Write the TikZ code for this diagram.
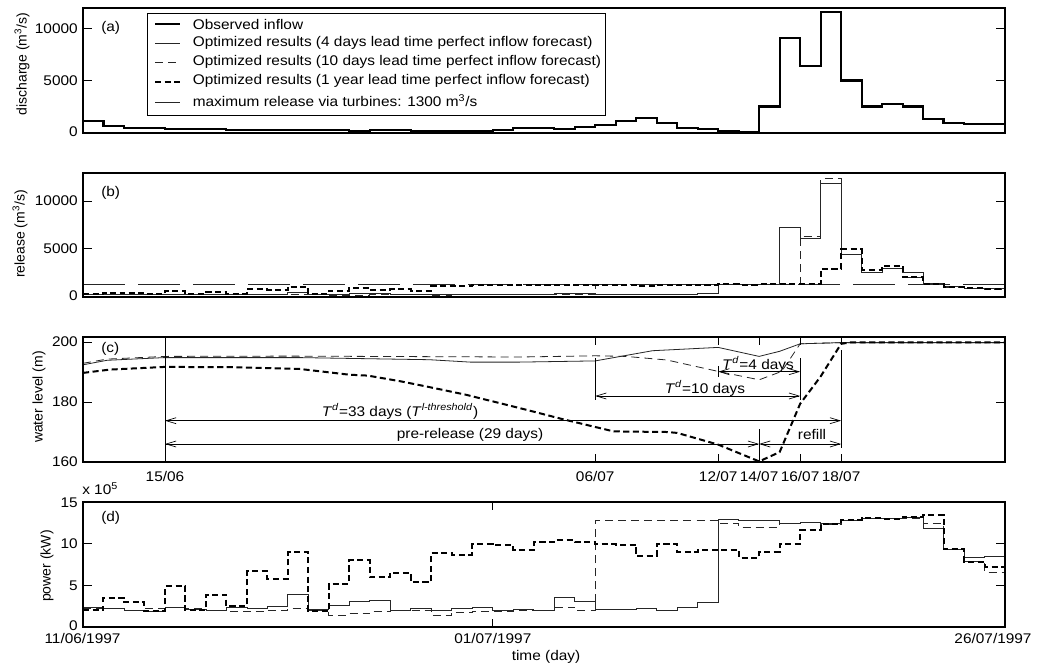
\documentclass[tikz,border=0pt]{standalone}
\usepackage{fontspec}
\setmainfont{Liberation Sans}
\usepackage{graphicx}
\usetikzlibrary{arrows.meta}
\newcommand{\sx}[1]{\scalebox{1.1}[1]{#1}}
\begin{document}
\begin{tikzpicture}[x=0.75pt,y=-0.75pt,
  every node/.style={inner sep=0pt, font=\fontsize{10.5}{12}\selectfont},
  frame/.style={line width=0.9pt},
  tk/.style={line width=0.7pt},
  obs/.style={line width=1.6pt},
  fourd/.style={line width=0.6pt, black!85},
  tend/.style={line width=0.6pt, black!85, dash pattern=on 6pt off 3.8pt},
  oney/.style={line width=1.5pt, dash pattern=on 4.6pt off 2.6pt},
  maxrel/.style={line width=0.6pt, black!85, dash pattern=on 31.5pt off 9.75pt},
  dimarrow/.style={line width=0.5pt, {Straight Barb[length=7.5pt,width=4.5pt]}-{Straight Barb[length=7.5pt,width=4.5pt]}},
  ann/.style={line width=0.5pt},
  pa/.style={shift={(83,133)}, x=15.367pt, y=7.8125pt},
  pb/.style={shift={(83,296.5)}, x=15.367pt, y=7.1625pt},
  pc/.style={shift={(83,942)}, x=15.367pt, y=2.25pt},
  pd/.style={shift={(83,627)}, x=15.367pt, y=6.25pt},
]
\fill[white] (0,0) rectangle (1042,668);
\useasboundingbox (0,0) rectangle (1042,668);

% ---------------- panel (a)
\begin{scope}[pa]
\draw[obs] plot[const plot] coordinates {(0,1.15)(1,0.64)(2,0.48)(4,0.38)(7,0.25)(13,0.15)(14,0.25)(16,0.2)(20,0.3)(21,0.48)(23,0.41)(24,0.57)(25,0.73)(26,1.15)(27,1.4)(28,0.96)(29,0.51)(30,0.35)(31,0.19)(32,0.1)(33,2.55)(34,9.1)(35,6.41)(36,11.64)(37,5.04)(38,2.55)(39,2.8)(40,2.55)(41,1.37)(42,0.96)(43,0.83)(45,0.83)};
\end{scope}
\draw[frame] (83,8) rectangle (1005,133);
\foreach \yy in {80.9,28.8} {\draw[tk] (83,\yy) -- (92,\yy); \draw[tk] (996,\yy) -- (1005,\yy);}
\node[anchor=east] (ya0) at (78,132) {\sx{0}};
\node[anchor=east] (ya1) at (78,80.9) {\sx{5000}};
\node[anchor=east] (ya2) at (78,28.8) {\sx{10000}};
\node[rotate=90] (yla) at (22,64) {discharge (m\textsuperscript{3}/s)};
\node[anchor=west] (lbla) at (101,28) {\sx{(a)}};

% legend
\draw[frame, fill=white] (147.7,13.3) rectangle (605.7,115.7);
\coordinate (l1a) at (155,24); \coordinate (l1b) at (180,24);
\coordinate (l2a) at (155,43.5); \coordinate (l2b) at (180,43.5);
\coordinate (l3a) at (155,62.5); \coordinate (l3b) at (180,62.5);
\coordinate (l4a) at (155,81.5); \coordinate (l4b) at (180,81.5);
\coordinate (l5a) at (155,102); \coordinate (l5b) at (180,102);
\draw[obs] (l1a) -- (l1b);
\draw[fourd] (l2a) -- (l2b);
\draw[tend] (l3a) -- (l3b);
\draw[oney] (l4a) -- (l4b);
\draw[fourd] (l5a) -- (l5b);
\node[anchor=west] (t1) at (192.5,24) {\sx{Observed inflow}};
\node[anchor=west] (t2) at (192.5,43) {\sx{Optimized results (4 days lead time perfect inflow forecast)}};
\node[anchor=west] (t3) at (192.5,62) {\sx{Optimized results (10 days lead time perfect inflow forecast)}};
\node[anchor=west] (t4) at (192.5,81) {\sx{Optimized results (1 year lead time perfect inflow forecast)}};
\node[anchor=west] (t5) at (192.5,100.5) {\sx{maximum release via turbines: 1300 m\textsuperscript{3}/s}};

% ---------------- panel (b)
\begin{scope}[pb]
\draw[maxrel] (0,1.3) -- (45,1.3);
\draw[fourd] plot[const plot] coordinates {(0,0.23)(1,0.225)(2,0.2)(3,0.19)(4,0.23)(5,0.21)(6,0.2)(7,0.24)(8,0.22)(9,0.25)(10,0.4)(11,0.21)(12,0.265)(13,0.305)(14,0.325)(15,0.2)(16,0.22)(17,0.2)(18,0.22)(19,0.23)(20,0.2)(21,0.21)(22,0.2)(23,0.35)(24,0.31)(25,0.21)(27,0.22)(28,0.2)(29,0.23)(30,0.29)(31,1.3)(34,7.2)(35,6.1)(36,11.8)(37,4.4)(38,2.53)(39,2.9)(40,2.57)(41,1.34)(42,1.06)(43,0.88)(45,0.88)};
\draw[tend] plot[const plot] coordinates {(0,0.22)(2,0.2)(3,0.22)(4,0.24)(5,0.22)(6,0.2)(7,0.185)(8,0.19)(9,0.2)(10,0.22)(11,0.2)(12,0.14)(13,0.16)(14,0.185)(15,0.2)(17,0.14)(18,0.175)(19,0.185)(20,0.19)(21,0.2)(23,0.24)(24,0.195)(25,1.3)(35,6.34)(36,12.32)(37,4.4)(38,2.53)(39,2.9)(40,2.04)(41,1.34)(42,1.0)(43,0.85)(44,0.7)(45,0.7)};
\draw[oney] plot[const plot] coordinates {(0,0.23)(1,0.41)(2,0.35)(3,0.22)(4,0.56)(5,0.23)(6,0.45)(7,0.29)(8,0.77)(9,0.66)(10,1.03)(11,0.22)(12,0.6)(13,0.92)(14,0.68)(15,0.75)(16,0.62)(17,1.13)(19,1.2)(22,1.25)(27,1.13)(28,1.25)(29,1.2)(30,1.25)(31,1.3)(32,1.25)(33,1.3)(36,2.92)(37,4.93)(38,2.82)(39,3.24)(40,2.04)(41,1.34)(42,0.99)(43,0.88)(44,0.77)(45,0.77)};
\end{scope}
\draw[frame] (83,173) rectangle (1005,297);
\foreach \yy in {248.75,201} {\draw[tk] (83,\yy) -- (92,\yy); \draw[tk] (996,\yy) -- (1005,\yy);}
\node[anchor=east] (yb0) at (78,296) {\sx{0}};
\node[anchor=east] (yb1) at (78,248.75) {\sx{5000}};
\node[anchor=east] (yb2) at (78,201) {\sx{10000}};
\node[rotate=90] (ylb) at (20,234) {release (m\textsuperscript{3}/s)};
\node[anchor=west] (lblb) at (101,193) {\sx{(b)}};

% ---------------- panel (c)
\begin{scope}[pc]
\draw[fourd] plot coordinates {(0,192.4)(1.17,193.9)(3.95,194.8)(10.6,194.8)(16.9,194.1)(18.9,193.3)(21.3,193.3)(25,193.7)(27.8,197.1)(31,198.2)(33,195.2)(34,196.9)(35,199.4)(37,199.8)(45,199.8)};
\draw[tend] plot coordinates {(0,192.9)(1.17,194.3)(4,195.2)(10,195.3)(21.3,195)(25,195.4)(26.5,195.2)(28.5,194)(31,190.2)(33,187.4)(34.1,190.2)(35,199.4)(37,199.8)(45,199.8)};
\draw[oney] plot coordinates {(0,189.7)(1.3,190.8)(4,191.7)(7.3,191.6)(10.6,191)(13,189.1)(13.9,188.8)(15.5,186.9)(17.1,184.7)(18.7,182.4)(21.3,178)(23.4,174.3)(25.9,170.2)(28.5,170)(29,169.7)(31,165.8)(33,160.2)(34,163.3)(35,179.4)(36,188.5)(37,199.4)(37.5,199.9)(45,199.9)};
\end{scope}
\draw[frame] (83,337) rectangle (1005,462);
\foreach \yy in {402,342} {\draw[tk] (83,\yy) -- (92,\yy); \draw[tk] (996,\yy) -- (1005,\yy);}
\foreach \xx in {595.2,718.2,759.1,800.1,841.1} {\draw[tk] (\xx,337) -- (\xx,345); \draw[tk] (\xx,462) -- (\xx,454);}
\node[anchor=east] (yc0) at (78,462) {\sx{160}};
\node[anchor=east] (yc1) at (78,402) {\sx{180}};
\node[anchor=east] (yc2) at (78,342) {\sx{200}};
\node[rotate=90] (ylc) at (39,397) {water level (m)};
\node[anchor=west] (lblc) at (101,349) {\sx{(c)}};
\node (d1) at (165,476) {\sx{15/06}};
\node (d2) at (595.2,476) {\sx{06/07}};
\node (d3) at (718.2,476) {\sx{12/07}};
\node (d4) at (759.1,476) {\sx{14/07}};
\node (d5) at (800.1,476) {\sx{16/07}};
\node (d6) at (841.1,476) {\sx{18/07}};
% annotation lines
\coordinate (v1a) at (165,337); \coordinate (v1b) at (165,462);
\coordinate (v2a) at (595.2,358); \coordinate (v2b) at (595.2,400);
\coordinate (v3a) at (718.2,366); \coordinate (v3b) at (718.2,377);
\coordinate (v4a) at (759.1,429); \coordinate (v4b) at (759.1,462);
\coordinate (v5a) at (800.1,358); \coordinate (v5b) at (800.1,400);
\coordinate (v6a) at (841.1,350); \coordinate (v6b) at (841.1,448);
\draw[ann] (v1a) -- (v1b);
\draw[ann] (v2a) -- (v2b);
\draw[ann] (v3a) -- (v3b);
\draw[ann] (v4a) -- (v4b);
\draw[ann] (v5a) -- (v5b);
\draw[ann] (v6a) -- (v6b);
\coordinate (a33l) at (165,420.7); \coordinate (a33r) at (841.1,420.7);
\coordinate (aprl) at (165,444); \coordinate (aprr) at (759.1,444);
\coordinate (arfl) at (759.1,444); \coordinate (arfr) at (841.1,444);
\coordinate (a10l) at (595.2,396); \coordinate (a10r) at (800.1,396);
\coordinate (a4l) at (718.2,371.7); \coordinate (a4r) at (800.1,371.7);
\draw[dimarrow] (a33l) -- (a33r);
\draw[dimarrow] (aprl) -- (aprr);
\draw[dimarrow] (arfl) -- (arfr);
\draw[dimarrow] (a10l) -- (a10r);
\draw[dimarrow] (a4l) -- (a4r);
\node (n33) at (400,411.5) {\sx{\textit{T}\textsuperscript{\textit{d}}=33 days (\textit{T}\textsuperscript{\textit{l-threshold}})}};
\node (npr) at (470,434.5) {\sx{pre-release (29 days)}};
\node (nrf) at (812,434.5) {\sx{refill}};
\node (n10) at (705,388.5) {\sx{\textit{T}\textsuperscript{\textit{d}}=10 days}};
\node (n4) at (758,364.5) {\sx{\textit{T}\textsuperscript{\textit{d}}=4 days}};

% ---------------- panel (d)
\begin{scope}[pd]
\draw[fourd] plot[const plot] coordinates {(0,2.3)(1,2.25)(2,2.0)(3,1.9)(4,2.3)(5,2.1)(6,2.0)(7,2.4)(8,2.2)(9,2.5)(10,3.95)(11,2.1)(12,2.65)(13,3.05)(14,3.25)(15,2.0)(16,2.2)(17,2.0)(18,2.2)(19,2.3)(20,2.0)(21,2.1)(22,2.0)(23,3.5)(24,3.1)(25,2.1)(27,2.2)(28,2.0)(29,2.3)(30,2.9)(31,12.95)(32,12.8)(34,12.45)(35,12.6)(36,12.4)(37,12.85)(38,13.05)(40,13.15)(41,11.85)(42,9.35)(43,8.35)(44,8.5)(45,8.5)};
\draw[tend] plot[const plot] coordinates {(0,2.2)(2,2.0)(3,2.2)(4,2.4)(5,2.2)(6,2.0)(7,1.85)(8,1.9)(9,2.0)(10,2.2)(11,2.0)(12,1.4)(13,1.6)(14,1.85)(15,2.0)(17,1.4)(18,1.75)(19,1.85)(20,1.9)(21,2.0)(23,2.4)(24,1.95)(25,12.75)(31,12.45)(32,12.0)(34,12.45)(35,12.6)(36,12.3)(37,12.8)(38,13.05)(41,12.45)(42,9.35)(43,7.85)(44,6.6)(45,6.6)};
\draw[oney] plot[const plot] coordinates {(0,2.0)(1,3.54)(2,3.0)(3,1.9)(4,4.9)(5,2.0)(6,3.9)(7,2.5)(8,6.7)(9,5.75)(10,8.96)(11,1.9)(12,5.2)(13,8.0)(14,5.95)(15,6.5)(16,5.4)(17,8.9)(18,8.7)(19,9.95)(20,9.8)(21,9.2)(22,10.2)(23,10.4)(24,10.2)(25,10.0)(26,9.9)(27,8.5)(28,9.95)(29,9.05)(30,9.25)(31,9.3)(32,8.3)(33,9.05)(34,10.0)(35,11.65)(36,12.4)(37,12.85)(38,13.05)(39,13.0)(40,13.25)(41,13.45)(42,9.35)(43,7.85)(44,7.25)(45,7.25)};
\end{scope}
\draw[frame] (83,502) rectangle (1005,627);
\foreach \yy in {585.3,543.7} {\draw[tk] (83,\yy) -- (92,\yy); \draw[tk] (996,\yy) -- (1005,\yy);}
\draw[tk] (492.8,502) -- (492.8,510); \draw[tk] (492.8,627) -- (492.8,619);
\node[anchor=east] (yd0) at (78,626) {\sx{0}};
\node[anchor=east] (yd1) at (78,585.3) {\sx{5}};
\node[anchor=east] (yd2) at (78,543.7) {\sx{10}};
\node[anchor=east] (yd3) at (78,502.5) {\sx{15}};
\node[anchor=west] (expo) at (82,489) {\sx{x 10\textsuperscript{5}}};
\node[rotate=90] (yld) at (47,566) {power (kW)};
\node[anchor=west] (lbld) at (101,518) {\sx{(d)}};
\node (x1) at (82.5,638) {\sx{11/06/1997}};
\node (x2) at (492.8,638) {\sx{01/07/1997}};
\node (x3) at (993,638) {\sx{26/07/1997}};
\node (xl) at (546,657) {\sx{time (day)}};
\end{tikzpicture}
\end{document}
